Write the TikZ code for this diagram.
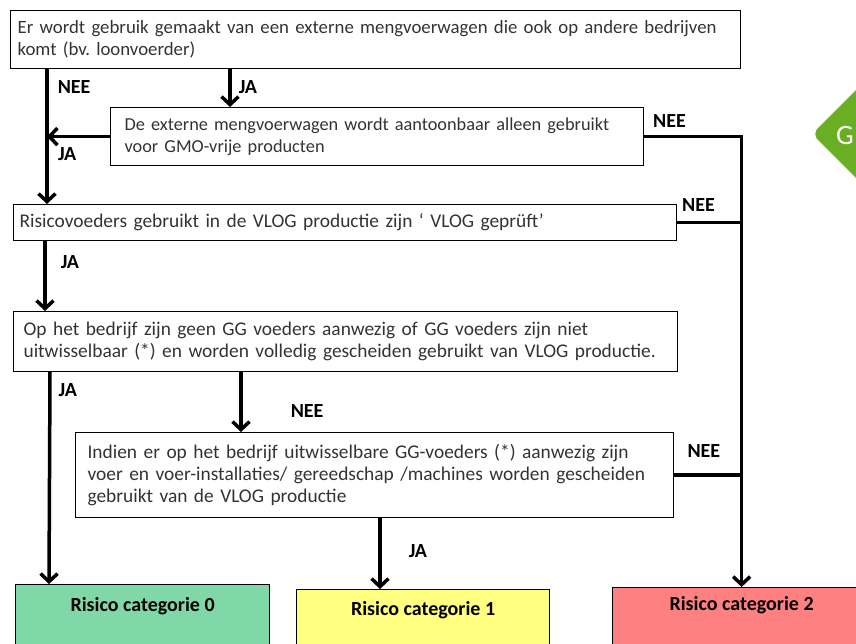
\documentclass[tikz,border=0pt]{standalone}
\usepackage{fontspec}
\setmainfont{Carlito}
\usetikzlibrary{arrows.meta}
\definecolor{catzero}{HTML}{80D8A8}
\definecolor{catone}{HTML}{FFFF80}
\definecolor{cattwo}{HTML}{FF8080}
\definecolor{logogreen}{HTML}{6AAE23}
\newcommand{\boxfont}[1]{\fontsize{#1}{22}\selectfont\frenchspacing}
\tikzset{
  box/.style={draw, line width=1.2pt, anchor=north west, align=left, inner xsep=10pt, inner ysep=0pt, text=black!80},
  catbox/.style={draw, line width=1.2pt, anchor=north west, inner sep=0pt},
  arr/.style={line width=3.5pt, -{Straight Barb[length=8pt,width=17pt]}},
  joinline/.style={line width=3.5pt},
  lbl/.style={font=\fontsize{20}{20}\selectfont\bfseries, inner sep=0pt}
}
\begin{document}
\begin{tikzpicture}[x=1pt,y=-1pt]
\useasboundingbox (0,0) rectangle (856,643);
\clip (0,0) rectangle (856,643);
\node[box, minimum width=730pt, minimum height=58pt, text width=716pt, inner xsep=7pt, font=\boxfont{18.8}] (A) at (10,10)
  {Er wordt gebruik gemaakt van een externe mengvoerwagen die ook op andere bedrijven\\komt (bv. loonvoerder)};
\node[box, minimum width=527pt, minimum height=58pt, text width=505pt, inner xsep=14pt, font=\boxfont{18.3}] (B) at (110,107)
  {De externe mengvoerwagen wordt aantoonbaar alleen gebruikt\\voor GMO-vrije producten};
\node[box, minimum width=663pt, minimum height=36pt, text width=651pt, inner xsep=6pt, font=\boxfont{19.4}] (C) at (13,204)
  {Risicovoeders gebruikt in de VLOG productie zijn ‘ VLOG geprüft’};
\node[box, minimum width=664pt, minimum height=60pt, text width=644pt, inner xsep=10pt, font=\boxfont{19.4}] (D) at (13,311)
  {Op het bedrijf zijn geen GG voeders aanwezig of GG voeders zijn niet\\uitwisselbaar (*) en  worden volledig  gescheiden gebruikt van VLOG productie.};
\node[box, minimum width=588pt, minimum height=85pt, text width=574pt, inner xsep=12pt, font=\boxfont{19.4}] (E) at (75,432)
  {Indien er op het bedrijf uitwisselbare GG-voeders (*) aanwezig zijn\\voer en voer-installaties/ gereedschap /machines  worden gescheiden\\gebruikt van de VLOG productie};
\node[catbox, fill=catzero, minimum width=254pt, minimum height=80pt,
  label={[lbl, anchor=north, yshift=-13pt]north:Risico categorie 0}] (cat0) at (15,584) {};
\node[catbox, fill=catone, minimum width=253pt, minimum height=80pt,
  label={[lbl, anchor=north, yshift=-12pt]north:Risico categorie 1}] (cat1) at (296,589) {};
\node[catbox, fill=cattwo, minimum width=258pt, minimum height=80pt,
  label={[lbl, anchor=north, yshift=-9pt]north:Risico categorie 2}] (cat2) at (612,587) {};
\fill[logogreen, rounded corners=8pt] (812,134) -- (866,80) -- (920,134) -- (866,188) -- cycle;
\node[text=white, inner sep=0pt, font=\fontsize{28}{28}\selectfont] (logo) at (845,136) {G};
\draw[arr] ([xshift=37pt]A.south west) -- node[lbl, pos=.13, right=9pt] {NEE} ([xshift=34pt]C.north west);
\draw[arr] ([xshift=220pt]A.south west) -- node[lbl, pos=.47, right=7pt] {JA} ([xshift=120pt]B.north west);
\draw[arr] (B.west) -- node[lbl, pos=.68, below=9pt] {JA} ++(-63,0);
\draw[arr] (B.east) -| node[lbl, pos=.13, above=7pt] {NEE} (cat2.north);
\draw[joinline] (C.east) -- node[lbl, pos=.33, above=9pt] {NEE} (C.east -| cat2.north);
\draw[arr] ([xshift=32pt]C.south west) -- node[lbl, pos=.3, right=14pt] {JA} ([xshift=32pt]D.north west);
\draw[arr] ([xshift=37pt]D.south west) -- node[lbl, pos=.085, right=7pt] {JA} ([xshift=34pt]cat0.north west);
\draw[arr] ([xshift=228pt]D.south west) -- node[lbl, pos=.65, right=48pt] {NEE} ([xshift=166pt]E.north west);
\draw[joinline] (E.east) -- node[lbl, pos=.44, above=16pt] {NEE} (E.east -| cat2.north);
\draw[arr] ([xshift=305pt]E.south west) -- node[lbl, pos=.46, right=27pt] {JA} ([xshift=84pt]cat1.north west);
\end{tikzpicture}
\end{document}
